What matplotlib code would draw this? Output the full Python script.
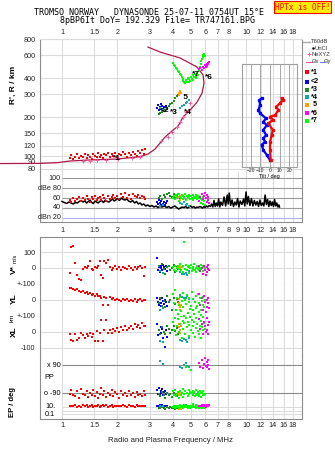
import numpy as np
import matplotlib.pyplot as plt
from matplotlib.ticker import FixedLocator, FixedFormatter, NullLocator

plt.rcParams['font.family'] = ['Liberation Sans', 'DejaVu Sans']

# ---------------- data ----------------
freq_ticks = [1, 1.5, 2, 3, 4, 5, 6, 7, 8, 10, 12, 14, 16, 18]
freq_ticks_mid = [1, 1.5, 2, 3, 4, 5, 6, 7, 8, 9, 10, 12, 14, 16, 18]
range_ticks = [80, 90, 100, 120, 150, 200, 300, 400, 600, 800]

# real height profile (plasma frequency MHz, km)
prof_f = [0.46, 0.76, 0.94, 1.10, 1.37, 1.99, 2.65, 2.93, 3.20, 3.41, 3.63, 3.96, 4.27,
          4.55, 4.96, 5.42, 5.77, 5.91, 5.84, 5.42, 4.38, 3.41, 2.93]
prof_h = [87.5, 87.8, 88.8, 91.5, 93.1, 94.8, 98.8, 103.6, 113, 126, 140, 156, 170,
          200, 226, 261, 306, 366, 422, 486, 571, 635, 693]
nexyz_f = [1.30, 1.42, 1.55, 1.73, 2.01, 2.40, 2.65, 3.45, 3.78, 3.98, 4.20, 4.40, 4.55, 4.70, 4.96]
nexyz_h = [92, 92, 93, 93.5, 95, 97, 98.5, 130, 140, 154, 168, 184, 199, 220, 255]

# tilt profiles (deg, km)
tiltx_deg = [0.7, 0, 0, 1.8, 2.8, -1.8, 3.4, 0, 5.2, 8.6, 6.2, 10.3, 13.1, 12]
tiltx_h = [93, 111, 129, 145, 159, 179, 190, 201, 207, 226, 240, 255, 270, 279]
tilty_deg = [0, -3.4, -6.9, -8.6, -5.2, -6.9, -4.1, -6.9, -3.4, -6.9, -4.1, -10.3, -12, -10.3, -11, -8.6]
tilty_h = [93, 102, 111, 122, 129, 137, 145, 159, 173, 184, 195, 214, 226, 248, 270, 279]

# noise level dBn
noise_f = [1.00, 1.03, 1.06, 1.09, 1.12, 1.15, 1.18, 1.21, 1.24, 1.27,
           1.30, 1.33, 1.36, 1.39, 1.42, 1.45, 1.48, 1.51, 1.54, 1.57,
           1.60, 1.64, 1.68, 1.72, 1.76, 1.80, 1.84, 1.88, 1.92, 1.96,
           2.00, 2.05, 2.10, 2.15, 2.20, 2.25, 2.30, 2.36, 2.42, 2.48,
           2.54, 2.60, 2.66, 2.72, 2.78, 2.85, 2.92, 3.00, 3.08, 3.16,
           3.24, 3.32, 3.40, 3.50, 3.60, 3.70, 3.80, 3.90, 4.00, 4.10,
           4.20, 4.30, 4.40, 4.50, 4.60, 4.70, 4.80, 4.90, 5.00, 5.10,
           5.20, 5.30, 5.40, 5.50, 5.60, 5.70, 5.80, 5.90, 6.00, 6.10,
           6.20, 6.30, 6.40, 6.50, 6.60, 6.70, 6.80, 6.90, 7.00, 7.10,
           7.20, 7.30, 7.45, 7.60, 7.75, 7.90, 8.00, 8.10, 8.25, 8.40,
           8.55, 8.70, 8.85, 9.00, 9.15, 9.30, 9.50, 9.70, 9.85, 10.00,
           10.15, 10.30, 10.50, 10.70, 10.90, 11.10, 11.30, 11.50, 11.70, 11.90,
           12.10, 12.30, 12.50, 12.70, 12.90, 13.10, 13.30, 13.50, 13.70, 13.90,
           14.10, 14.30, 14.50, 14.70, 14.90, 15.10, 15.20]
noise_db = [53, 51, 49, 52, 50, 48, 51, 50, 53, 55,
            52, 54, 50, 53, 56, 51, 49, 54, 52, 50,
            53, 55, 51, 56, 53, 52, 55, 58, 54, 56,
            59, 55, 60, 57, 56, 58, 54, 52, 55, 50,
            53, 48, 50, 46, 48, 44, 46, 43, 45, 42,
            44, 41, 43, 42, 44, 41, 43, 40, 42, 44,
            41, 38, 40, 42, 41, 43, 40, 42, 44, 41,
            43, 40, 42, 41, 43, 42, 40, 43, 41, 44,
            42, 45, 43, 48, 42, 55, 43, 50, 44, 58,
            42, 52, 45, 62, 44, 66, 48, 70, 45, 56,
            43, 52, 46, 59, 42, 54, 47, 58, 44, 72,
            48, 63, 45, 59, 44, 55, 46, 53, 43, 56,
            45, 50, 44, 66, 47, 57, 43, 54, 45, 52,
            43, 57, 44, 50, 42, 46, 42]

# echo groups: frequency, virtual range, amplitude, V*, YL, XL, polarization, EP
red_f = [1.10, 1.12, 1.15, 1.18, 1.21, 1.24, 1.27, 1.30, 1.33, 1.36, 1.39, 1.42, 1.45, 1.48, 1.51,
         1.54, 1.57, 1.60, 1.63, 1.66, 1.70, 1.74, 1.78, 1.82, 1.86, 1.90, 1.95, 2.00, 2.05, 2.10,
         2.15, 2.20, 2.25, 2.30, 2.36, 2.42, 2.48, 2.54, 2.60, 2.66, 2.72, 2.78, 2.84]
red_rng = [97, 101, 95, 99, 103, 96, 100, 98, 104, 97, 101, 99, 95, 103, 100, 98, 105, 99, 102, 97,
           104, 101, 106, 99, 103, 100, 105, 98, 104, 101, 107, 103, 99, 106, 102, 108, 104, 100, 109,
           105, 111, 103, 113]
red_amp = [56, 52, 60, 54, 58, 63, 55, 61, 57, 64, 59, 53, 62, 58, 65, 56, 60, 63, 57, 66, 61, 55,
           64, 59, 62, 67, 60, 65, 58, 68, 63, 70, 61, 66, 59, 69, 64, 62, 67, 60, 65, 63, 58]
red_vs = [-30, 130, 138, 33, -45, -70, -75, -5, 5, 0, 10, 46, -8, -12, 8, -3, 12, 44, -44, -64,
          44, 29, 50, 5, -15, 0, 10, -5, 8, -12, 5, 0, -8, 10, 3, -10, 5, -5, 8, 12, 0, -48, 5]
red_yl = [75, 78, 66, 62, 70, 55, 48, 57, 45, 50, 36, 42, 33, 40, 26, 35, 22, 28, 15, -30, 20, 10,
          -30, 16, 4, 12, 0, 9, 3, -6, 8, -2, 5, -8, 2, -4, 6, -10, 0, 4, -7, 2, -3]
red_xl = [-15, -50, -55, -10, -48, -35, -5, -20, -40, -15, -25, -5, -30, -10, -55, 5, -56, -8, 75,
          -56, 10, 75, -8, 15, -5, 20, 8, 25, 0, 30, 15, 35, 10, 28, 40, 20, 50, 30, 45, 25, 54, 35, 40]
red_pp = [-95, -70, -100, -110, -80, -120, -65, -95, -105, -75, -115, -90, -100, -70, -110, -85,
          -120, -95, -60, -105, -80, -115, -90, -100, -70, -110, -85, -95, -120, -75, -100, -90,
          -110, -80, -105, -90, -115, -85, -100, -95, -110, -80, -100]
red_ep = [15, 20, 12, 25, 10, 18, 8, 22, 14, 30, 9, 16, 24, 11, 19, 13, 27, 10, 17, 21, 12, 26, 9,
          15, 23, 11, 18, 14, 20, 12, 25, 16, 10, 22, 13, 19, 11, 24, 15, 20, 12, 18, 14]

blue_f = [3.30, 3.33, 3.36, 3.40, 3.43, 3.47, 3.50, 3.54, 3.58, 3.62, 3.66, 3.72]
blue_rng = [235, 248, 225, 240, 252, 230, 245, 222, 238, 228, 242, 232]
blue_amp = [52, 48, 56, 50, 46, 54, 58, 49, 53, 47, 51, 55]
blue_vs = [60, -10, 5, -25, 10, 0, -15, 20, 5, -5, 15, -20]
blue_yl = [15, -10, -30, 5, -40, -20, 10, -5, -25, 0, -15, -35]
blue_xl = [50, -20, 10, -55, 30, -5, 20, -40, 0, -94, 15, -30]
blue_pp = [-70, -95, -60, -100, -80, -90, -65, -105, -85, -75, -95, -88]
blue_ep = [15, 20, 12, 25, 18, 10, 22, 14, 16, 20, 12, 18]

dgreen_f = [3.35, 3.42, 3.50, 3.58, 3.65, 3.72, 3.80, 3.88, 3.96, 4.04, 4.12, 4.20, 4.28, 4.36]
dgreen_rng = [212, 215, 218, 222, 228, 235, 242, 250, 258, 268, 278, 288, 296, 305]
dgreen_amp = [60, 64, 58, 66, 62, 68, 70, 65, 63, 69, 60, 67, 62, 58]
dgreen_vs = [10, -20, 25, -5, -40, 5, 15, -10, 0, 20, -25, 8, -5, 12]
dgreen_yl = [-20, 10, -35, -5, -45, 25, -15, 0, -60, 15, -25, 5, -10, -30]
dgreen_xl = [10, -15, 30, 0, -10, 40, 20, -5, 15, 35, 5, 25, -15, 10]
dgreen_pp = [-95, -110, -85, -100, -120, -90, -105, -95, -115, -88, -100, -110, -92, -105]
dgreen_ep = [6, 4, 8, 5, 3, 7, 5, 9, 4, 6, 3, 5, 7, 4]

teal_f = [3.40, 3.55, 4.40, 4.50, 4.60, 4.70, 4.80, 4.92]
teal_rng = [235, 232, 236, 242, 248, 255, 262, 270]
teal_amp = [45, 47, 50, 48, 52, 46, 49, 44]
teal_vs = [-20, -30, -25, -40, -35, -30, -45, -20]
teal_yl = [-60, -50, 30, 20, 10, 15, 25, 5]
teal_xl = [-55, -60, -50, -55, -45, -50, -60, -40]
teal_pp = [115, 95, 80, 72, 90, 100, 85, 78]
teal_ep = [20, 15, 25, 18, 22, 30, 12, 16]

orange_f = [4.30, 4.33, 4.36, 4.39, 4.42]
orange_rng = [298, 305, 312, 318, 308]
orange_amp = [68, 62, 56, 65, 60]
orange_vs = [-5, 5, 0, 10, -10]
orange_yl = [5, -20, -45, -65, -30]
orange_xl = [50, 30, 10, -5, 40]
orange_pp = [-95, -100, -90, -105, -98]
orange_ep = [4, 3, 6, 5, 3]

lime_f = [4.02, 4.07, 4.12, 4.17, 4.22, 4.27, 4.32, 4.37, 4.42, 4.47,
          4.52, 4.57, 4.62, 4.67, 4.72, 4.77, 4.82, 4.87, 4.92, 4.97,
          5.02, 5.07, 5.12, 5.17, 5.22, 5.27, 5.32, 5.37, 5.42, 5.47,
          5.52, 5.57, 5.62, 5.67, 5.72, 5.77, 5.82, 5.87, 5.92, 5.97]
lime_rng = [520, 505, 495, 480, 470, 455, 445, 430, 420, 405,
            395, 380, 372, 368, 385, 375, 398, 370, 390, 380,
            410, 395, 420, 385, 405, 430, 400, 415, 440, 425,
            450, 470, 490, 515, 540, 560, 585, 600, 615, 595]
lime_amp = [60, 64, 58, 66, 62, 68, 55, 63, 61, 67, 59, 65, 62, 68, 57, 64, 60, 66, 63, 58,
            65, 61, 67, 56, 63, 60, 66, 62, 58, 64, 61, 55, 63, 59, 50, 57, 62, 48, 54, 46]
lime_vs = [5, -10, 15, -20, 0, 10, -5, 25, -15, 8, -25, 12, 160, -8, 20, -12, 5, -30, 10, -3,
           18, -18, 6, -6, 22, -10, 2, -22, 14, -4, 9, -14, 3, -9, 17, -1, 11, -16, 7, -2]
lime_yl = [40, -20, 60, -60, 10, -90, -30, 20, -70, -5, 45, -45, -100, 0, -25, 30, -80, -15, 15, -55,
           -35, 50, -65, 5, -85, -10, 25, -50, -40, 35, -75, -20, 10, -60, -95, -5, 20, -30, -45, 0]
lime_xl = [60, 10, 90, -20, 40, 80, 0, 50, 100, -35, 70, 20, 55, -10, 85, 30, 65, -25, 45, 95,
           15, 75, -5, 35, 60, -30, 90, 25, 50, 5, 80, -15, 40, 70, -40, 30, 95, 10, 55, 20]
lime_pp = [-80, -100, -70, -110, -95, -85, -120, -75, -105, -90, -65, -115, -95, -80, 75, -88,
           -110, -72, -98, -84, 60, -92, -78, -106, -86, -112, -70, -96, -102, -82, -94, -108,
           -76, -90, -114, -88, -100, -80, -104, -96]
lime_ep = [8, 12, 5, 20, 9, 15, 6, 30, 10, 7, 14, 4, 11, 25, 8, 13, 6, 18, 9, 5,
           16, 7, 12, 40, 8, 10, 6, 22, 9, 14, 5, 11, 7, 19, 8, 6, 13, 9, 4, 10]

mag_f = [5.55, 5.65, 5.75, 5.85, 5.92, 6.00, 6.05, 6.10, 6.15, 6.20, 6.25, 6.32]
mag_rng = [470, 480, 462, 490, 475, 505, 485, 515, 495, 525, 510, 530]
mag_amp = [55, 62, 68, 58, 65, 70, 60, 66, 52, 63, 57, 50]
mag_vs = [10, -20, 0, -35, 15, -10, -45, 5, -25, 20, -5, -15]
mag_yl = [40, -30, 10, -60, 25, -10, -75, 0, -45, 15, -20, -50]
mag_xl = [80, 20, 50, -10, 65, 35, 0, 85, 10, 45, -15, 60]
mag_pp = [100, 80, 120, 70, 95, 135, 85, 110, 75, 125, 90, 65]
mag_ep = [20, 15, 30, 12, 25, 18, 10, 22, 16, 28, 14, 35]

group_names = ['*1', '<2', '*3', '*4', ' 5', '*6', '*7']
group_colors = ['#ff0000', '#0000ff', '#208a20', '#10a8a8', '#ffa000', '#ff00ff', '#00ff00']
# where the group tags sit in the range panel (MHz, km)
tag_f = [1.99, 3.62, 4.07, 4.84, 4.62, 6.30, 5.34]
tag_h = [96, 225, 218, 218, 285, 407, 429]

groups = [
    (red_f, red_rng, red_amp, red_vs, red_yl, red_xl, red_pp, red_ep, group_colors[0]),
    (blue_f, blue_rng, blue_amp, blue_vs, blue_yl, blue_xl, blue_pp, blue_ep, group_colors[1]),
    (dgreen_f, dgreen_rng, dgreen_amp, dgreen_vs, dgreen_yl, dgreen_xl, dgreen_pp, dgreen_ep, group_colors[2]),
    (teal_f, teal_rng, teal_amp, teal_vs, teal_yl, teal_xl, teal_pp, teal_ep, group_colors[3]),
    (orange_f, orange_rng, orange_amp, orange_vs, orange_yl, orange_xl, orange_pp, orange_ep, group_colors[4]),
    (lime_f, lime_rng, lime_amp, lime_vs, lime_yl, lime_xl, lime_pp, lime_ep, group_colors[6]),
    (mag_f, mag_rng, mag_amp, mag_vs, mag_yl, mag_xl, mag_pp, mag_ep, group_colors[5]),
]

# ---------------- layout ----------------
W, H = 335, 451
fig = plt.figure(figsize=(W / 100, H / 100), dpi=100)
fig.patch.set_facecolor('white')


def box(x0, y0, x1, y1):
    # pixel box -> figure fraction
    return [x0 / W, 1 - y1 / H, (x1 - x0) / W, (y1 - y0) / H]


FLO, FHI = 0.759, 20.15
GRID = '#dcdcdc'
FRAME = '#8c8c8c'
TS = 5.2


def setup(ax, spines, xt=freq_ticks):
    ax.set_facecolor('none')
    ax.set_axisbelow(True)
    ax.set_xscale('log')
    ax.set_xlim(FLO, FHI)
    ax.xaxis.set_major_locator(FixedLocator(xt))
    ax.xaxis.set_minor_locator(NullLocator())
    ax.xaxis.set_major_formatter(FixedFormatter(['%g' % t for t in xt]))
    ax.grid(True, axis='x', color=GRID, lw=0.8)
    ax.tick_params(length=0, labelsize=TS, labelbottom=False, labelleft=False, colors='#222222')
    for s in ['top', 'bottom', 'left', 'right']:
        ax.spines[s].set_visible(s in spines)
        ax.spines[s].set_color(FRAME)
        ax.spines[s].set_linewidth(0.8)


ax_h = fig.add_axes(box(40, 39, 302, 172))
ax_a = fig.add_axes(box(40, 172, 302, 222))
ax_v = fig.add_axes(box(40, 237, 302, 284))
ax_y = fig.add_axes(box(40, 284, 302, 316))
ax_x = fig.add_axes(box(40, 316, 302, 356))
ax_p = fig.add_axes(box(40, 356, 302, 400))
ax_e = fig.add_axes(box(40, 400, 302, 419))

setup(ax_h, ['left', 'right', 'top'])
ax_h.spines['top'].set_color(GRID)
setup(ax_a, ['left', 'right', 'bottom'], freq_ticks_mid)
setup(ax_v, ['left', 'right', 'top'])
setup(ax_y, ['left', 'right'])
setup(ax_x, ['left', 'right'])
setup(ax_p, ['left', 'right'])
setup(ax_e, ['left', 'right', 'bottom'])

# range panel
ax_h.set_yscale('log')
ax_h.set_ylim(75.3, 800)
ax_h.yaxis.set_major_locator(FixedLocator(range_ticks))
ax_h.yaxis.set_minor_locator(NullLocator())
ax_h.yaxis.set_major_formatter(FixedFormatter([str(t) for t in range_ticks]))
ax_h.grid(True, axis='y', color=GRID, lw=0.8)
ax_h.tick_params(axis='y', labelleft=True, pad=2.9)
ax_h.tick_params(axis='x', labeltop=True, pad=2.0)

ax_h.plot(prof_f, prof_h, color='#b01848', lw=0.9, clip_on=False, zorder=3)
ax_h.plot(nexyz_f, nexyz_h, '+', color='#f060a8', ms=3, mew=0.7, zorder=3)

# amplitude panel
ax_a.set_ylim(12, 112)
ax_a.set_yticks([])
ax_a.hlines([100, 80, 60, 40], 1.0, FHI, color='#9a9a9a', lw=0.8)
ax_a.hlines([20], 1.0, FHI, color='#b0b0e8', lw=0.8)
for val, lab in zip([100, 80, 60, 40, 20], ['100', 'dBe 80', '60', '40', 'dBn 20']):
    ax_a.text(0.985, val, lab, ha='right', va='center', fontsize=TS, color='#222222')
ax_a.tick_params(axis='x', labelbottom=True, pad=3.4)
ax_a.plot(noise_f, noise_db, color='black', lw=1.1, zorder=2)

# lower strips
ax_v.set_ylim(-100, 193.75)
ax_v.set_yticks([100, 0, -100])
ax_v.set_yticklabels(['100', '0', '+-100'])
ax_y.set_ylim(-100, 100)
ax_y.set_yticks([0, -100])
ax_y.set_yticklabels(['0', '+-100'])
ax_x.set_ylim(-150, 100)
ax_x.set_yticks([0, -100])
ax_x.set_yticklabels(['0', '-100'])
for ax in (ax_v, ax_y, ax_x):
    ax.grid(True, axis='y', color=GRID, lw=0.8)
    ax.tick_params(axis='y', labelleft=True, pad=3.2)

ax_p.set_ylim(-135, 148)
ax_p.set_yticks([])
ax_p.hlines([90, -90], 1.0, FHI, color='#8a8a8a', lw=0.8)
ax_p.text(0.985, 90, 'x 90', ha='right', va='center', fontsize=TS)
ax_p.text(0.985, -90, 'o -90', ha='right', va='center', fontsize=TS)
ax_p.text(0.8, 8, 'PP', ha='left', va='center', fontsize=TS)

ax_e.set_yscale('log')
ax_e.set_ylim(0.0058, 580)
ax_e.set_yticks([])
ax_e.yaxis.set_minor_locator(NullLocator())
ax_e.hlines([10, 1, 0.1], 1.0, FHI, color=GRID, lw=0.8)
ax_e.text(0.81, 10, '10.', ha='left', va='center', fontsize=TS)
ax_e.text(0.81, 0.1, '0.1', ha='left', va='center', fontsize=TS)
ax_e.tick_params(axis='x', labelbottom=True, pad=2.0)

# echoes
for f, rng, amp, vs, yl, xl, pp, ep, c in groups:
    kw = dict(ls='none', marker='s', ms=1.8, mew=0, color=c, zorder=4)
    ax_h.plot(f, rng, **kw)
    ax_a.plot(f, amp, **kw)
    ax_v.plot(f, vs, **kw)
    ax_y.plot(f, yl, **kw)
    ax_x.plot(f, xl, **kw)
    ax_p.plot(f, pp, **kw)
    ax_e.plot(f, ep, **kw)

for name, tf, th in zip(group_names, tag_f, tag_h):
    ax_h.text(tf, th, name, fontsize=6, fontweight='bold', ha='center', va='center', zorder=5)

# tilt inset
ax_t = fig.add_axes(box(242, 64, 297, 167))
ax_t.set_facecolor('none')
ax_t.set_yscale('log')
ax_t.set_ylim(82.3, 512.8)
ax_t.set_xlim(-28.9, 27.8)
ax_t.set_yticks([])
ax_t.yaxis.set_minor_locator(NullLocator())
ax_t.set_xticks([-20, -10, 0, 10, 20])
ax_t.grid(True, axis='x', color='#a8a8a8', lw=0.7)
ax_t.tick_params(length=0, labelsize=3.6, pad=1.0, colors='#222222')
ax_t.set_xlabel('Tilt / deg', fontsize=4, labelpad=0.5)
for s in ax_t.spines.values():
    s.set_color('#a0a0a0')
    s.set_linewidth(0.8)
ax_t.plot(tilty_deg, tilty_h, color='#0000ff', lw=1.6, marker='s', ms=1.4)
ax_t.plot(tiltx_deg, tiltx_h, color='#ff0000', lw=1.6, marker='s', ms=1.4)

# legend column
ax_l = fig.add_axes(box(302, 36, 335, 126))
ax_l.set_xlim(302, 335)
ax_l.set_ylim(126, 36)
ax_l.axis('off')
LS = 4.2
ax_l.plot([303, 310], [41.7, 41.7], color='#aaaaaa', lw=1.0)
ax_l.text(311, 41.7, 'T60dB', fontsize=LS, va='center', color='#333333')
ax_l.plot([312.5], [48.3], 'o', color='black', ms=0.8)
ax_l.text(314.5, 48.3, 'UnCl', fontsize=LS, va='center', color='#333333')
ax_l.plot([308.5], [54.3], '+', color='#f060a8', ms=3, mew=0.7)
ax_l.text(311, 54.3, 'NeXYZ', fontsize=LS, va='center', color='#333333')
ax_l.plot([306, 311.5], [61.7, 61.7], color='#f060a8', lw=0.8)
ax_l.text(311.8, 61.7, 'Θx', fontsize=LS, va='center', color='#333333')
ax_l.plot([319.5, 324], [61.7, 61.7], color='#8080ff', lw=0.8)
ax_l.text(324.2, 61.7, 'Θy', fontsize=LS, va='center', color='#333333')
for name, c, yy in zip(group_names, group_colors, [72.3, 81.7, 90, 97.3, 105, 113.3, 120.7]):
    ax_l.plot([306.7], [yy], 's', color=c, ms=2.3, mew=0)
    ax_l.text(311.2, yy, name, fontsize=5.2, fontweight='bold', va='center')

# titles and axis texts
mono = 'DejaVu Sans Mono'
fig.text(149 / W, 1 - 12.3 / H, 'TROMSO NORWAY   DYNASONDE 25-07-11 0754UT 15°E',
         family=mono, fontsize=6, ha='center', va='center')
fig.text(157.5 / W, 1 - 20.7 / H, '8pBP6It DoY= 192.329 File= TR747161.BPG',
         family=mono, fontsize=6, ha='center', va='center')
fig.text(302.5 / W, 1 - 7 / H, 'HPTx is OFF!', family=mono, fontsize=5.5, color='red',
         ha='center', va='center',
         bbox=dict(boxstyle='square,pad=0.15', facecolor='#ffee00', edgecolor='red', lw=0.8))

fig.text(13 / W, 1 - 85 / H, "R', R / km", rotation=90, fontsize=6, fontweight='bold',
         ha='center', va='center')
fig.text(14 / W, 1 - 270 / H, 'V*', rotation=90, fontsize=6, fontweight='bold', ha='center', va='center')
fig.text(15 / W, 1 - 258 / H, 'm/s', rotation=90, fontsize=4.2, ha='center', va='center')
fig.text(14 / W, 1 - 299 / H, 'YL', rotation=90, fontsize=6, fontweight='bold', ha='center', va='center')
fig.text(12 / W, 1 - 318 / H, 'km', rotation=90, fontsize=4.5, ha='center', va='center')
fig.text(14 / W, 1 - 332 / H, 'XL', rotation=90, fontsize=6, fontweight='bold', ha='center', va='center')
fig.text(13 / W, 1 - 402 / H, 'EP / deg', rotation=90, fontsize=5.5, fontweight='bold',
         ha='center', va='center')
fig.text(170 / W, 1 - 440 / H, 'Radio and Plasma Frequency / MHz', fontsize=5.6,
         ha='center', va='center', color='#222222')

fig.savefig('out.png', dpi=100)
